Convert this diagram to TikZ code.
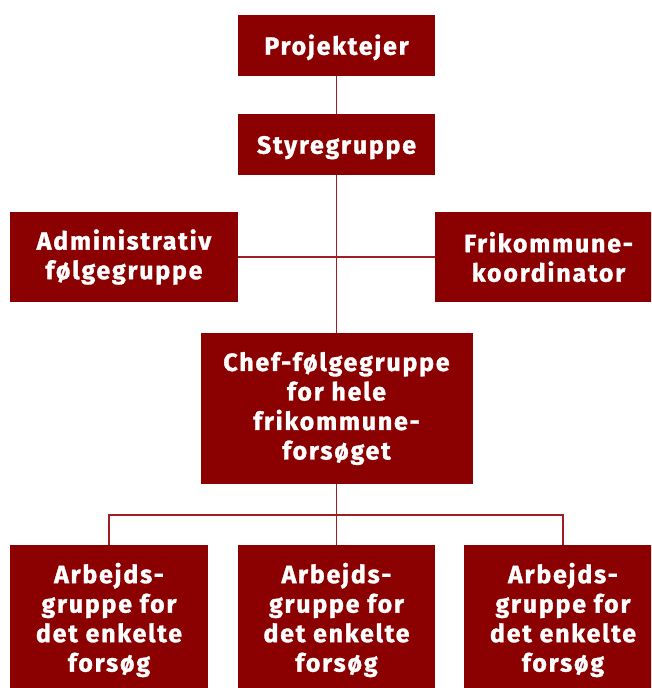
\documentclass[tikz,border=0pt]{standalone}
\usepackage{fontspec}
\setmainfont{Fira Sans}[BoldFont={* Bold},BoldFeatures={LetterSpace=7,FakeBold=1.2}]
\definecolor{boxred}{RGB}{139,0,0}
\definecolor{linered}{RGB}{160,30,35}
\begin{document}
\begin{tikzpicture}[x=1pt,y=-1pt,
  box/.style={fill=boxred,text=white,font=\bfseries\fontsize{25}{29.5}\selectfont,
    align=center,inner sep=0pt,anchor=center,
    execute at begin node={\rule{0pt}{24pt}}},
  link/.style={draw=linered,line width=1.3pt}]
\useasboundingbox (0,0) rectangle (651,688);
\clip (0,0) rectangle (651,688);
\node[box,minimum width=197pt,minimum height=61pt] (proj) at (336.5,45.5) {Projektejer};
\node[box,minimum width=197pt,minimum height=61pt] (styre) at (336.5,144.5) {Styregruppe};
\node[box,minimum width=228pt,minimum height=90pt] (admin) at (124,257) {Administrativ\\følgegruppe};
\node[box,minimum width=227pt,minimum height=90pt] (friko) at (548.5,257) {Frikommune-\\koordinator};
\node[box,minimum width=272pt,minimum height=151pt] (chef) at (336.5,408.5) {Chef-følgegruppe\\for hele\\frikommune-\\forsøget};
\node[box,minimum width=198pt,minimum height=150pt] (a1) at (109,620) {Arbejds-\\gruppe for\\det enkelte\\forsøg};
\node[box,minimum width=197pt,minimum height=150pt] (a2) at (336.5,620) {Arbejds-\\gruppe for\\det enkelte\\forsøg};
\node[box,minimum width=198pt,minimum height=150pt] (a3) at (563,620) {Arbejds-\\gruppe for\\det enkelte\\forsøg};
\coordinate (split) at (336.5,515);
\draw[link] (proj.south) -- (styre.north);
\draw[link] (styre.south) -- (chef.north);
\draw[link] (admin.east) -- (friko.west);
\draw[link] (chef.south) -- (split);
\draw[link] (a1.north) |- (split) -| (a3.north);
\draw[link] (split) -- (a2.north);
\end{tikzpicture}
\end{document}
